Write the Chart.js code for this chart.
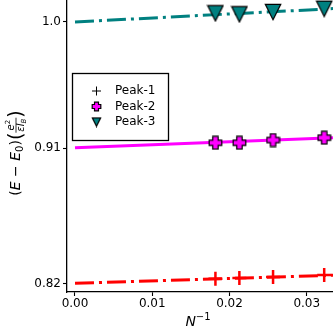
<!DOCTYPE html>
<html><head><meta charset="utf-8">
<script src="https://cdn.jsdelivr.net/npm/chart.js@4/dist/chart.umd.min.js"></script>
<style>html,body{margin:0;padding:0;background:#fff}#wrap{width:333px;height:333px}</style>
</head><body><div id="wrap"><canvas id="c" width="333" height="333"></canvas></div>
<script>
// ---- data ----
const invN   = [0.01818, 0.02128, 0.02564, 0.03226];
const peak1  = [0.8236, 0.8241, 0.8248, 0.8262];
const peak2  = [0.9170, 0.9170, 0.9189, 0.9205];
const peak3  = [1.0060, 1.0053, 1.0069, 1.0091];
const fitX   = [0, 0.0334];
const fit1   = [0.8205, 0.8260];
const fit2   = [0.9136, 0.9205];
const fit3   = [1.0000, 1.0092];
const seriesNames = ['Peak-1', 'Peak-2', 'Peak-3'];
const xTicks = [0, 0.01, 0.02, 0.03];
const xTickLabels = ['0.00', '0.01', '0.02', '0.03'];
const yTicks = [0.82, 0.9134, 1.0];
const yTickLabels = ['0.82', '0.91', '1.0'];

const RED = '#ff0000', MAG = '#ff00ff', TEAL = '#008080';
const FONT = '"DejaVu Sans", sans-serif';

function makePlus(size, fill) {
  const c = document.createElement('canvas');
  c.width = size; c.height = size;
  const g = c.getContext('2d');
  const m = size / 2, L = size / 2 - 1.2, w = size * 0.18;
  g.beginPath();
  g.moveTo(m - w, m - L); g.lineTo(m + w, m - L); g.lineTo(m + w, m - w);
  g.lineTo(m + L, m - w); g.lineTo(m + L, m + w); g.lineTo(m + w, m + w);
  g.lineTo(m + w, m + L); g.lineTo(m - w, m + L); g.lineTo(m - w, m + w);
  g.lineTo(m - L, m + w); g.lineTo(m - L, m - w); g.lineTo(m - w, m - w);
  g.closePath();
  g.fillStyle = fill; g.fill();
  g.lineWidth = 1.2; g.strokeStyle = '#000'; g.lineJoin = 'miter'; g.stroke();
  return c;
}
function makeTri(size, fill) {
  const c = document.createElement('canvas');
  c.width = size; c.height = size;
  const g = c.getContext('2d');
  const p = 1.3;
  g.beginPath();
  g.moveTo(p, p); g.lineTo(size - p, p); g.lineTo(size / 2, size - p);
  g.closePath();
  g.fillStyle = fill; g.fill();
  g.lineWidth = 1.2; g.strokeStyle = '#000'; g.lineJoin = 'miter'; g.stroke();
  return c;
}
const plusImg = makePlus(15, MAG), triImg = makeTri(18, TEAL);
const plusSmall = makePlus(11, MAG), triSmall = makeTri(11, TEAL);

const pts = (xs, ys) => xs.map((x, i) => ({x: x, y: ys[i]}));
const dashdot = [19, 5, 3, 5];

const lineDs = (ys, color, dash) => ({
  data: pts(fitX, ys), showLine: true, borderColor: color, borderWidth: 3,
  borderDash: dash, pointRadius: 0, clip: false, borderCapStyle: 'butt', order: 2
});

function textRun(ctx, pieces, x0, base) {
  let x = x0;
  for (const p of pieces) {
    ctx.font = p.f;
    ctx.fillText(p.t, x, base + (p.dy || 0));
    x += ctx.measureText(p.t).width;
  }
  return x;
}
function runWidth(ctx, pieces) {
  let w = 0;
  for (const p of pieces) { ctx.font = p.f; w += ctx.measureText(p.t).width; }
  return w;
}

const decor = {
  id: 'decor',
  afterDatasetsDraw(chart) {
    const ctx = chart.ctx;
    // legend
    ctx.save();
    ctx.fillStyle = '#fff';
    ctx.fillRect(72.5, 73.5, 96, 67);
    ctx.strokeStyle = '#000'; ctx.lineWidth = 1.3;
    ctx.strokeRect(72.5, 73.5, 96, 67);
    const rows = [91, 106.5, 122];
    ctx.beginPath();
    ctx.moveTo(92, rows[0]); ctx.lineTo(101, rows[0]);
    ctx.moveTo(96.5, rows[0] - 4.5); ctx.lineTo(96.5, rows[0] + 4.5);
    ctx.lineWidth = 1; ctx.strokeStyle = '#000'; ctx.stroke();
    ctx.drawImage(plusSmall, 96.5 - plusSmall.width / 2, rows[1] - plusSmall.height / 2);
    ctx.drawImage(triSmall, 96.5 - triSmall.width / 2, rows[2] - triSmall.height / 2);
    ctx.fillStyle = '#000'; ctx.font = '12px ' + FONT; ctx.textBaseline = 'middle'; ctx.textAlign = 'left';
    seriesNames.forEach((n, i) => ctx.fillText(n, 115, rows[i]));
    ctx.restore();
  },
  afterDraw(chart) {
    const ctx = chart.ctx;
    ctx.save();
    ctx.fillStyle = '#000';
    ctx.textBaseline = 'alphabetic'; ctx.textAlign = 'left';
    const xp = [
      {t: 'N', f: 'italic 14px ' + FONT},
      {t: '−1', f: '10px ' + FONT, dy: -6}
    ];
    const xw = runWidth(ctx, xp);
    textRun(ctx, xp, 198 - xw / 2, 326);
    ctx.translate(0, 153);
    ctx.rotate(-Math.PI / 2);
    const base = 20;
    const up = '14px ' + FONT, it = 'italic 14px ' + FONT;
    const main = [
      {t: '(', f: up}, {t: 'E', f: it}, {t: ' − ', f: up}, {t: 'E', f: it},
      {t: '0', f: '10px ' + FONT, dy: 3}, {t: ')', f: up}
    ];
    const big = '19px ' + FONT;
    const num = [{t: 'e', f: 'italic 10px ' + FONT}, {t: '2', f: '7px ' + FONT, dy: -4}];
    const den = [{t: 'εl', f: 'italic 10px ' + FONT}, {t: 'B', f: 'italic 7px ' + FONT, dy: 2}];
    const mw = runWidth(ctx, main);
    ctx.font = big; const pw = ctx.measureText('(').width;
    const nw = runWidth(ctx, num), dw = runWidth(ctx, den);
    const fw = Math.max(nw, dw) + 2;
    const total = mw + pw * 2 + fw;
    let x = -total / 2;
    x = textRun(ctx, main, x, base);
    ctx.font = big; ctx.fillText('(', x, base + 2); x += pw;
    const bar = base - 4;
    ctx.fillRect(x, bar - 0.4, fw, 0.8);
    textRun(ctx, num, x + (fw - nw) / 2, bar - 2);
    textRun(ctx, den, x + (fw - dw) / 2, bar + 8);
    x += fw;
    ctx.font = big; ctx.fillText(')', x, base + 2);
    ctx.restore();
  }
};

const axisCommon = {
  border: {display: true, color: '#000', width: 1.3},
  grid: {display: true, drawOnChartArea: false, drawTicks: true, tickLength: 4, tickWidth: 1.1, tickColor: '#000'},
};

new Chart(document.getElementById('c'), {
  type: 'scatter',
  data: {
    datasets: [
      lineDs(fit1, RED, dashdot),
      lineDs(fit2, MAG, []),
      lineDs(fit3, TEAL, dashdot),
      {label: seriesNames[0], data: pts(invN, peak1), pointStyle: 'cross', pointRadius: 7,
       borderColor: RED, backgroundColor: RED, pointBorderWidth: 2.5, clip: false, order: 1},
      {label: seriesNames[1], data: pts(invN, peak2), pointStyle: plusImg, pointRadius: 7, clip: false, order: 1},
      {label: seriesNames[2], data: pts(invN, peak3), pointStyle: triImg, pointRadius: 8, clip: false, order: 1}
    ]
  },
  options: {
    responsive: false, animation: false, events: [],
    layout: {padding: 0, autoPadding: false},
    plugins: {legend: {display: false}, tooltip: {enabled: false}},
    scales: {
      x: Object.assign({}, axisCommon, {
        type: 'linear', min: -0.001035, max: 0.0334,
        afterBuildTicks: s => { s.ticks = xTicks.map(v => ({value: v})); },
        afterFit: s => { s.height = 41; s.paddingLeft = 0; s.paddingRight = 0; },
        ticks: {color: '#000', font: {family: FONT, size: 12}, padding: 1, maxRotation: 0,
                callback: (v, i) => xTickLabels[i]}
      }),
      y: Object.assign({}, axisCommon, {
        type: 'linear', min: 0.8145, max: 1.01511,
        afterBuildTicks: s => { s.ticks = yTicks.map(v => ({value: v})); },
        afterFit: s => { s.width = 67; s.paddingTop = 0; s.paddingBottom = 0; },
        ticks: {color: '#000', font: {family: FONT, size: 12}, padding: 2,
                callback: (v, i) => yTickLabels[i]}
      })
    }
  },
  plugins: [decor]
});
</script>
</body></html>
